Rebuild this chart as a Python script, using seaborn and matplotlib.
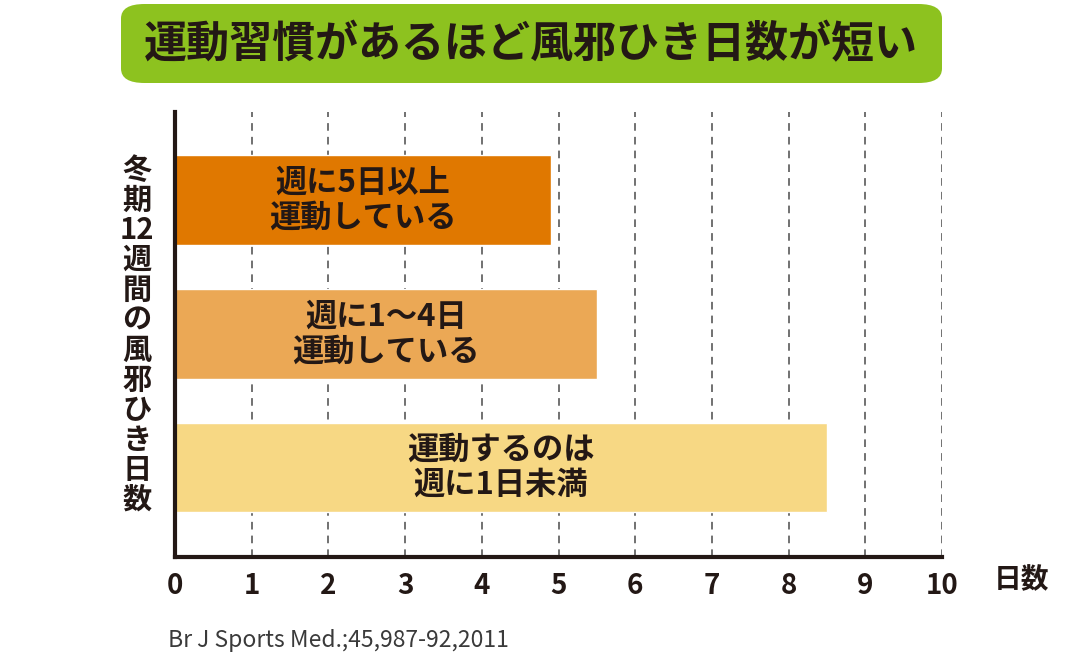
import pandas as pd
import matplotlib.pyplot as plt
import seaborn as sns
from matplotlib.patches import FancyBboxPatch

# data
groups = ["週に5日以上\n運動している", "週に1〜4日\n運動している", "運動するのは\n週に1日未満"]
days = [4.9, 5.5, 8.5]
bar_colors = ["#E07800", "#EBA855", "#F7D884"]
x_ticks = list(range(0, 11))

title = "運動習慣があるほど風邪ひき日数が短い"
ylabel_lines = ["冬", "期", "12", "週", "間", "の", "風", "邪", "ひ", "き", "日", "数"]
xlabel = "日数"
source = "Br J Sports Med.;45,987-92,2011"

ink = "#231815"

sns.set_style("white")
plt.rcParams["font.family"] = ["Noto Sans CJK JP", "DejaVu Sans"]

df = pd.DataFrame({"group": groups, "days": days})

fig = plt.figure(figsize=(10.71, 6.56), dpi=100)
ax = fig.add_axes([175 / 1071, 1 - 557 / 656, 767 / 1071, 445 / 656])

sns.barplot(data=df, x="days", y="group", hue="group", palette=bar_colors,
            orient="h", width=0.67, legend=False, ax=ax, saturation=1)

ax.set_xlim(0, 10)
ax.set_ylim(2.668, -0.657)

# dashed grid
for t in x_ticks[1:]:
    ax.axvline(t, color="#4a4a4a", lw=1.1, ls=(0, (5, 4)), zorder=0)

# labels inside bars
for i, g in enumerate(groups):
    ax.text(days[i] / 2, i, g, ha="center", va="center", fontsize=22.5,
            fontweight="bold", color=ink, linespacing=1.12)

ax.set_yticks([])
ax.set_xticks(x_ticks)
ax.set_xticklabels([str(t) for t in x_ticks], fontsize=20, fontweight="bold", color=ink)
ax.tick_params(axis="x", length=0, pad=11)
ax.set_xlabel("")
ax.set_ylabel("")

for s in ["top", "right"]:
    ax.spines[s].set_visible(False)
for s in ["left", "bottom"]:
    ax.spines[s].set_color(ink)
    ax.spines[s].set_linewidth(3)

# title box
box = FancyBboxPatch((121 / 1071, 1 - 83 / 656), 821 / 1071, 79 / 656,
                     boxstyle="round,pad=0,rounding_size=0.022",
                     transform=fig.transFigure, facecolor="#8DC21F",
                     edgecolor="none")
fig.patches.append(box)
fig.text(531 / 1071, 1 - 44 / 656, title, ha="center", va="center",
         fontsize=31, fontweight="bold", color=ink)

# vertical y label
fig.text(137 / 1071, 1 - 335 / 656, "\n".join(ylabel_lines), ha="center",
         va="center", fontsize=21, fontweight="bold", color=ink,
         linespacing=1.0)

fig.text(1021 / 1071, 1 - 580 / 656, xlabel, ha="center", va="center",
         fontsize=20, fontweight="bold", color=ink)
fig.text(168 / 1071, 1 - 640 / 656, source, ha="left", va="center",
         fontsize=16.5, color="#3a3a3a")

fig.savefig("out.png", dpi=100, facecolor="white")
